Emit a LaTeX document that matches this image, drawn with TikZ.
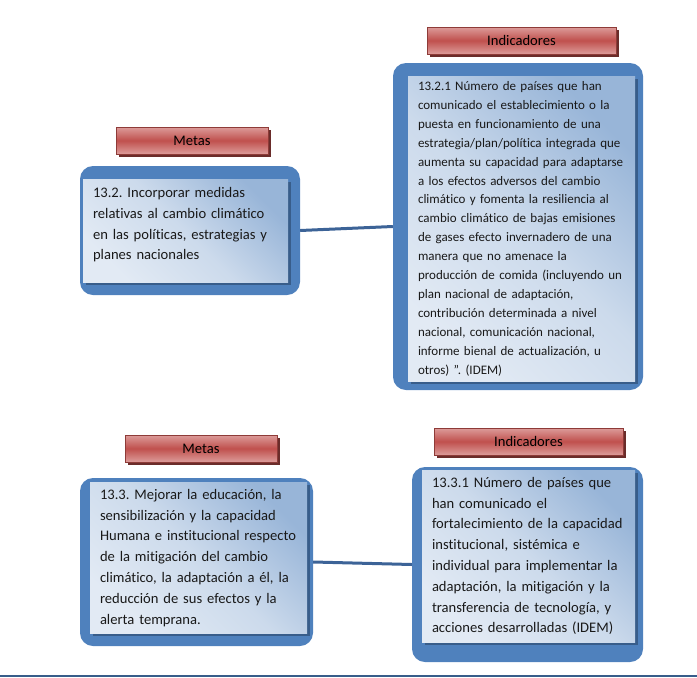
\documentclass[tikz,border=0pt]{standalone}
\usepackage{fontspec}
\setmainfont{Carlito}[Ligatures=NoCommon]
\usetikzlibrary{shadows}
\frenchspacing
\definecolor{outerblue}{HTML}{4F81BD}
\definecolor{paleblue}{HTML}{E2EAF4}
\definecolor{midblue}{HTML}{98B5D8}
\definecolor{shadeblue}{HTML}{385D8A}
\definecolor{linkblue}{HTML}{3C6397}
\definecolor{labelred}{HTML}{C0504D}
\definecolor{lightred}{HTML}{DC9C9A}
\definecolor{edgered}{HTML}{8E3B38}
\definecolor{shadered}{HTML}{6A2C2A}
\newcommand{\cardlines}[1]{\begin{tabular}{@{}l@{}}#1\end{tabular}}

\begin{document}
\begin{tikzpicture}[x=1pt, y=-1pt,
font=\fontsize{14.6}{20.8}\selectfont,
frame/.style={fill=outerblue, rounded corners=13pt, inner sep=0pt},
card/.style={left color=paleblue, right color=midblue, middle color=paleblue!70!midblue,
    shading angle=135, inner xsep=10pt, inner ysep=0pt, align=left, text=black!90,
    drop shadow={shadow xshift=3pt, shadow yshift=-3pt, fill=shadeblue, opacity=1}},
small/.style={font=\fontsize{13}{18.9}\selectfont},
tag/.style={draw=edgered, top color=lightred, bottom color=lightred, middle color=labelred,
    minimum height=27pt, inner sep=0pt,
    drop shadow={shadow xshift=3pt, shadow yshift=-3pt, fill=shadered, opacity=1}},
link/.style={draw=linkblue, line width=3pt},
]
\useasboundingbox (0,0) rectangle (697,678);

\node[frame, minimum width=220pt, minimum height=129pt] (m1) at (190,230.5) {};
\node[frame, minimum width=250pt, minimum height=327pt] (i1) at (518,226.5) {};
\node[frame, minimum width=233pt, minimum height=168pt] (m2) at (196.5,562) {};
\node[frame, minimum width=231pt, minimum height=195pt] (i2) at (527.5,564.5) {};

\node[tag, minimum width=152pt] (t1) at (192,140.5) {Metas};
\node[tag, minimum width=189pt] (t2) at (521.5,40.5) {Indicadores};
\node[tag, minimum width=152pt] (t3) at (201,448.5) {Metas};
\node[tag, minimum width=189pt] (t4) at (528.5,441.5) {Indicadores};

\node[card, minimum width=205pt, minimum height=103pt, text width=185pt] (c1) at (185.5,230.5)
  {\cardlines{13.2. Incorporar medidas\\ relativas al cambio climático\\ en las políticas, estrategias y\\ planes nacionales\\[12pt]}};
\node[card, small, minimum width=227pt, minimum height=305pt, text width=207pt] (c2) at (521.5,228.5)
  {\cardlines{13.2.1 Número de países que han\\ comunicado el establecimiento o la\\ puesta en funcionamiento de una\\
   estrategia/plan/política integrada que\\ aumenta su capacidad para adaptarse\\ a los efectos adversos del cambio\\
   climático y fomenta la resiliencia al\\ cambio climático de bajas emisiones\\ de gases efecto invernadero de una\\
   manera que no amenace la\\ producción de comida (incluyendo un\\ plan nacional de adaptación,\\
   contribución determinada a nivel\\ nacional, comunicación nacional,\\ informe bienal de actualización, u\\
   otros) ”. (IDEM)}};
\node[card, minimum width=217pt, minimum height=151pt, text width=197pt] (c3) at (198.5,557.5)
  {\cardlines{13.3. Mejorar la educación, la\\ sensibilización y la capacidad\\ Humana e institucional respecto\\
   de la mitigación del cambio\\ climático, la adaptación a él, la\\ reducción de sus efectos y la\\ alerta temprana.}};
\node[card, minimum width=213pt, minimum height=172pt, text width=193pt] (c4) at (528.5,556)
  {\cardlines{13.3.1 Número de países que\\ han comunicado el\\ fortalecimiento de la capacidad\\ institucional, sistémica e\\
   individual para implementar la\\ adaptación, la mitigación y la\\ transferencia de tecnología, y\\ acciones desarrolladas (IDEM)}};

\draw[link] (m1.east) -- (i1.west);
\draw[link] (m2.east) -- (i2.west);

\coordinate (b1) at (0,676);
\coordinate (b2) at (697,676);
\draw[draw=shadeblue, line width=1.5pt] (b1) -- (b2);
\end{tikzpicture}
\end{document}
